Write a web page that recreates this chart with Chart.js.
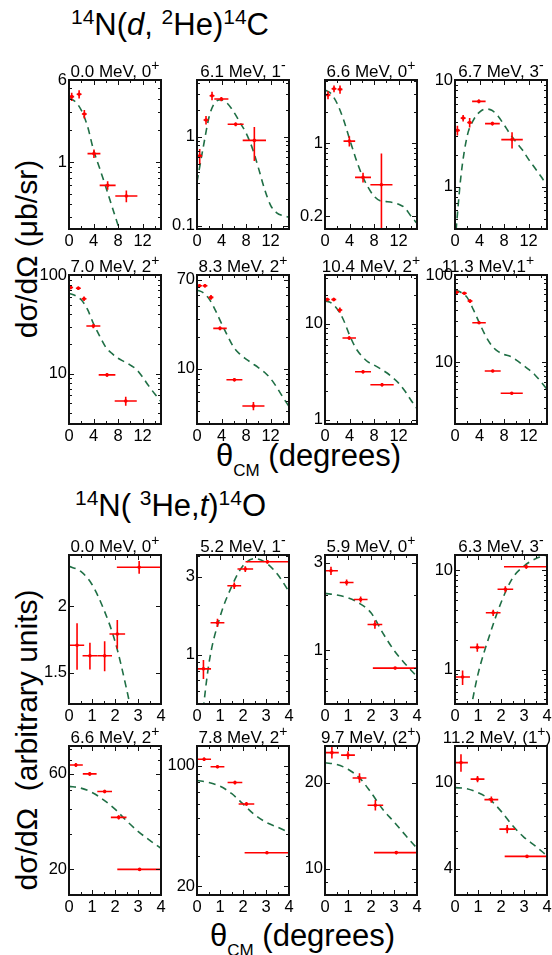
<!DOCTYPE html>
<html>
<head>
<meta charset="utf-8">
<script src="https://cdn.jsdelivr.net/npm/chart.js@4.4.0/dist/chart.umd.min.js"></script>
<style>
  body { margin:0; width:552px; height:955px; background:#fff; position:relative; overflow:hidden;
         font-family:"Liberation Sans", Arial, sans-serif; color:#000; }
  canvas { position:absolute; }
  .lbl { position:absolute; white-space:nowrap; }
  .sp { font-size:21px; position:relative; top:-11px; }
  .sb { font-size:17px; position:relative; top:10px; }
  .rot { position:absolute; width:340px; text-align:center; font-size:30px; line-height:30px;
         white-space:nowrap; transform:rotate(-90deg); transform-origin:50% 50%; }
</style>
</head>
<body>

<div class="lbl" style="left:71px;top:10px;font-size:31px;line-height:30px"><span class="sp">14</span>N(<i>d</i>, <span class="sp">2</span>He)<span class="sp">14</span>C</div>
<div class="lbl" style="left:75px;top:491px;font-size:31px;line-height:30px"><span class="sp">14</span>N( <span class="sp">3</span>He,<i>t</i>)<span class="sp">14</span>O</div>

<div class="lbl" style="left:216px;top:441px;font-size:31px;line-height:30px">θ<span class="sb">CM</span> (degrees)</div>
<div class="lbl" style="left:210px;top:921px;font-size:31px;line-height:30px">θ<span class="sb">CM</span> (degrees)</div>

<div class="rot" style="left:-143px;top:234px">dσ/dΩ (μb/sr)</div>
<div class="rot" style="left:-143px;top:725px">dσ/dΩ&nbsp; (arbitrary units)</div>

<script>
// angle grids for the dashed DWBA curves
const topFitTheta = [0, 1, 2, 3, 4, 5, 6, 7, 8, 9, 10, 11, 12, 13, 14, 15];
const botFitTheta = [0, 0.5, 1, 1.5, 2, 2.5, 3, 3.5, 4];

// 14N(d,2He)14C
const top1Theta = [0.44, 1.65, 2.5, 4.07, 6.3, 9.35];
const top1ThetaErr = [0.4, 0.4, 0.4, 1.05, 1.3, 1.8];
const top1Xs = [4.17, 4.4, 2.85, 1.2, 0.60, 0.475];
const top1XsErr = [0.38, 0.4, 0.27, 0.11, 0.055, 0.06];
const top1Fit = [4.0, 3.75, 3.1, 2.2, 1.3, 0.87, 0.58, 0.38, 0.25, 0.16, 0.1];

const top2Theta = [0.44, 1.47, 2.45, 3.97, 6.3, 9.35];
const top2ThetaErr = [0.4, 0.4, 0.4, 1.15, 1.3, 1.9];
const top2Xs = [0.61, 1.54, 2.89, 2.65, 1.38, 0.91];
const top2XsErr = [0.12, 0.17, 0.32, 0.14, 0.07, 0.375];
const top2Fit = [0.31, 0.75, 1.7, 2.45, 2.6, 2.35, 1.9, 1.45, 1.1, 0.75, 0.45, 0.26, 0.17, 0.14, 0.13, 0.125];

const top3Theta = [0.49, 1.47, 2.45, 3.97, 6.2, 9.2];
const top3ThetaErr = [0.4, 0.4, 0.4, 0.95, 1.3, 1.8];
const top3Xs = [2.91, 3.35, 3.3, 1.05, 0.47, 0.40];
const top3XsErr = [0.26, 0.25, 0.3, 0.12, 0.05, 0.40];
const top3Fit = [3.25, 3.0, 2.4, 1.7, 1.1, 0.72, 0.5, 0.38, 0.31, 0.28, 0.275, 0.27, 0.26, 0.24, 0.2, 0.17];

const top4Theta = [0.39, 1.33, 2.39, 3.89, 6.1, 9.3];
const top4ThetaErr = [0.4, 0.4, 0.4, 1.1, 1.2, 1.75];
const top4Xs = [3.37, 4.39, 3.99, 6.3, 3.9, 2.76];
const top4XsErr = [0.35, 0.3, 0.4, 0.25, 0.15, 0.48];
const top4Fit = [0.3, 1.3, 3.0, 4.2, 5.0, 5.35, 5.2, 4.6, 3.8, 3.1, 2.6, 2.2, 1.8, 1.5, 1.25, 1.02];

const top5Theta = [0.27, 1.52, 2.45, 3.97, 6.2, 9.25];
const top5ThetaErr = [0.4, 0.4, 0.4, 1.14, 1.36, 1.8];
const top5Xs = [74.8, 73.5, 57.5, 30.4, 9.7, 5.27];
const top5XsErr = [3, 3, 3, 1.5, 0.4, 0.55];
const top5Fit = [65, 62, 56, 45, 32, 24, 18.5, 16, 14.3, 13.2, 12.2, 11, 9.2, 7.5, 6.2, 5.2];

const top6Theta = [0.4, 1.3, 2.28, 3.75, 6.1, 9.2];
const top6ThetaErr = [0.4, 0.4, 0.4, 1.1, 1.3, 1.8];
const top6Xs = [61.7, 61.7, 47.8, 24.3, 7.9, 4.45];
const top6XsErr = [2.5, 2.5, 2.5, 1, 0.3, 0.4];
const top6Fit = [56, 53, 46, 36, 27, 20.5, 16, 13.8, 12.4, 11.3, 10.3, 9.3, 8.1, 6.7, 5.4, 4.4];

const top7Theta = [0.38, 1.43, 2.42, 3.95, 6.2, 9.3];
const top7ThetaErr = [0.4, 0.4, 0.4, 1.1, 1.3, 1.9];
const top7Xs = [17.9, 17.9, 13.9, 7.1, 3.15, 2.31];
const top7XsErr = [0.8, 0.8, 0.9, 0.3, 0.12, 0.1];
const top7Fit = [17.3, 16.5, 14.2, 11, 7.6, 5.6, 4.6, 4.0, 3.7, 3.4, 3.1, 2.75, 2.4, 2.0, 1.6, 1.3];

const top8Theta = [0.27, 1.52, 2.45, 3.92, 6.15, 9.25];
const top8ThetaErr = [0.4, 0.4, 0.4, 1.1, 1.3, 1.8];
const top8Xs = [63.4, 61.7, 50.3, 28.4, 7.95, 4.42];
const top8XsErr = [2, 2, 2.5, 1, 0.25, 0.15];
const top8Fit = [67, 63, 55, 40, 28, 20, 15.5, 13.3, 12.3, 11.7, 10.6, 9.4, 8.3, 7.2, 6.0, 4.9];

// 14N(3He,t)14O
const bot1Theta = [0.35, 0.91, 1.55, 2.1, 3.05];
const bot1ThetaErr = [0.31, 0.32, 0.32, 0.34, 0.97];
const bot1Xs = [1.69, 1.615, 1.615, 1.775, 2.37];
const bot1XsErr = [0.17, 0.094, 0.105, 0.11, 0.065];
const bot1Fit = [2.38, 2.33, 2.2, 1.98, 1.72, 1.4, 1.1];

const bot2Theta = [0.28, 0.89, 1.62, 2.1, 3.06];
const bot2ThetaErr = [0.33, 0.3, 0.3, 0.34, 0.95];
const bot2Xs = [0.82, 1.57, 2.64, 3.34, 3.70];
const bot2XsErr = [0.11, 0.09, 0.12, 0.14, 0.1];
const bot2Fit = [0.2, 0.85, 1.7, 2.6, 3.5, 3.87, 3.65, 3.1, 2.43];

const bot3Theta = [0.26, 0.94, 1.55, 2.17, 3.05];
const bot3ThetaErr = [0.3, 0.3, 0.3, 0.32, 0.97];
const bot3Xs = [2.71, 2.34, 1.89, 1.38, 0.80];
const bot3XsErr = [0.14, 0.09, 0.07, 0.07, 0.01];
const bot3Fit = [2.04, 2.0, 1.93, 1.8, 1.6, 1.25, 1.0, 0.84, 0.72];

const bot4Theta = [0.33, 0.97, 1.66, 2.19, 3.1];
const bot4ThetaErr = [0.32, 0.32, 0.32, 0.34, 0.97];
const bot4Xs = [0.84, 1.67, 3.72, 6.43, 10.8];
const bot4XsErr = [0.14, 0.16, 0.27, 0.47, 0.5];
const bot4Fit = [0.1, 0.25, 0.9, 2.2, 4.7, 8.3, 11.0, 13.0, 14.2];

const bot5Theta = [0.30, 0.9, 1.55, 2.16, 3.07];
const bot5ThetaErr = [0.3, 0.3, 0.32, 0.34, 0.97];
const bot5Xs = [66.5, 60, 49, 36.4, 20];
const bot5XsErr = [1.5, 1.2, 1, 0.9, 0.3];
const bot5Fit = [52, 51, 48.5, 44.5, 40, 35, 31, 28, 25.5];

const bot6Theta = [0.31, 0.89, 1.65, 2.15, 3.04];
const bot6ThetaErr = [0.3, 0.3, 0.32, 0.34, 0.97];
const bot6Xs = [109, 98.6, 79.8, 60, 31.3];
const bot6XsErr = [2.5, 2, 2, 1.5, 0.5];
const bot6Fit = [82, 80, 76, 69, 60, 52, 47, 44, 41];

const bot7Theta = [0.3, 1.0, 1.5, 2.19, 3.1];
const bot7ThetaErr = [0.3, 0.3, 0.3, 0.34, 0.97];
const bot7Xs = [25.5, 25.0, 20.8, 16.7, 11.4];
const bot7XsErr = [1.2, 0.8, 0.8, 0.7, 0.15];
const bot7Fit = [23.5, 23.2, 22.3, 20.8, 18.5, 16.2, 14.6, 13.1, 11.8];

const bot8Theta = [0.26, 0.98, 1.58, 2.27, 3.13];
const bot8ThetaErr = [0.3, 0.3, 0.3, 0.34, 0.97];
const bot8Xs = [12.4, 10.4, 8.36, 6.11, 4.57];
const bot8XsErr = [1.15, 0.35, 0.28, 0.27, 0.05];
const bot8Fit = [9.5, 9.4, 9.0, 8.4, 7.4, 6.35, 5.6, 5.1, 4.6];

// x ticks of each group
const topXMajor = [0, 4, 8, 12], topXMinor = [2, 6, 10, 14];
const botXMajor = [0, 1, 2, 3, 4], botXMinor = [0.5, 1.5, 2.5, 3.5];

const FONT = '"Liberation Sans", Arial, sans-serif';
const RED = '#ff0000', GREEN = '#1f6f45', INK = '#111';
const colLeft = [69, 197, 325, 455];
const rowTop = [80, 275, 555, 746];
const plotW = 92, plotH = 149;
const PAD_L = 52, PAD_T = 30, PAD_R = 10, PAD_B = 26;

const panels = [
  {col:0,row:0, x:top1Theta, dx:top1ThetaErr, y:top1Xs, dy:top1XsErr, fit:top1Fit, yMin:0.231, yMax:6,   yLab:[1,6],     title:['0.0 MeV, 0','+','']},
  {col:1,row:0, x:top2Theta, dx:top2ThetaErr, y:top2Xs, dy:top2XsErr, fit:top2Fit, yMin:0.092, yMax:4.34, yLab:[0.1,1],  title:['6.1 MeV, 1','-','']},
  {col:2,row:0, x:top3Theta, dx:top3ThetaErr, y:top3Xs, dy:top3XsErr, fit:top3Fit, yMin:0.15, yMax:4.06,  yLab:[0.2,1],   title:['6.6 MeV, 0','+','']},
  {col:3,row:0, x:top4Theta, dx:top4ThetaErr, y:top4Xs, dy:top4XsErr, fit:top4Fit, yMin:0.4, yMax:10,     yLab:[1,10],    title:['6.7 MeV, 3','-','']},
  {col:0,row:1, x:top5Theta, dx:top5ThetaErr, y:top5Xs, dy:top5XsErr, fit:top5Fit, yMin:3.08, yMax:100,   yLab:[10,100],  title:['7.0 MeV, 2','+','']},
  {col:1,row:1, x:top6Theta, dx:top6ThetaErr, y:top6Xs, dy:top6XsErr, fit:top6Fit, yMin:3.0, yMax:78,     yLab:[10,70],   title:['8.3 MeV, 2','+','']},
  {col:2,row:1, x:top7Theta, dx:top7ThetaErr, y:top7Xs, dy:top7XsErr, fit:top7Fit, yMin:0.9, yMax:32.2,   yLab:[1,10],    title:['10.4 MeV, 2','+','']},
  {col:3,row:1, x:top8Theta, dx:top8ThetaErr, y:top8Xs, dy:top8XsErr, fit:top8Fit, yMin:1.96, yMax:100,   yLab:[10,100],  title:['11.3 MeV,1','+',''], shift:-13},
  {col:0,row:2, x:bot1Theta, dx:bot1ThetaErr, y:bot1Xs, dy:bot1XsErr, fit:bot1Fit, yMin:1.31, yMax:2.5,   yLab:[1.5,2],   title:['0.0 MeV, 0','+','']},
  {col:1,row:2, x:bot2Theta, dx:bot2ThetaErr, y:bot2Xs, dy:bot2XsErr, fit:bot2Fit, yMin:0.5, yMax:4.07,   yLab:[1,3],     title:['5.2 MeV, 1','-','']},
  {col:2,row:2, x:bot3Theta, dx:bot3ThetaErr, y:bot3Xs, dy:bot3XsErr, fit:bot3Fit, yMin:0.51, yMax:3.3,   yLab:[1,3],     title:['5.9 MeV, 0','+','']},
  {col:3,row:2, x:bot4Theta, dx:bot4ThetaErr, y:bot4Xs, dy:bot4XsErr, fit:bot4Fit, yMin:0.45, yMax:14.2,  yLab:[1,10],    title:['6.3 MeV, 3','-','']},
  {col:0,row:3, x:bot5Theta, dx:bot5ThetaErr, y:bot5Xs, dy:bot5XsErr, fit:bot5Fit, yMin:14.9, yMax:82.7,  yLab:[20,60],   title:['6.6 MeV, 2','+','']},
  {col:1,row:3, x:bot6Theta, dx:bot6ThetaErr, y:bot6Xs, dy:bot6XsErr, fit:bot6Fit, yMin:17.8, yMax:130,   yLab:[20,100],  title:['7.8 MeV, 2','+','']},
  {col:2,row:3, x:bot7Theta, dx:bot7ThetaErr, y:bot7Xs, dy:bot7XsErr, fit:bot7Fit, yMin:8.1, yMax:26.9,   yLab:[10,20],   title:['9.7 MeV, (2','+',')']},
  {col:3,row:3, x:bot8Theta, dx:bot8ThetaErr, y:bot8Xs, dy:bot8XsErr, fit:bot8Fit, yMin:3.03, yMax:14.8,  yLab:[4,10],    title:['11.2 MeV, (1','+',')'], shift:-4},
];

function logTicks(min, max, extra) {
  const out = extra.slice();
  for (let e = Math.floor(Math.log10(min)); e <= Math.ceil(Math.log10(max)); e++) {
    for (let m = 1; m < 10; m++) {
      const v = parseFloat((m * Math.pow(10, e)).toPrecision(6));
      if (v >= min && v <= max && !out.includes(v)) out.push(v);
    }
  }
  return out.sort((a, b) => a - b);
}

function sameVal(a, b) { return Math.abs(a - b) <= 1e-6 * Math.max(1, Math.abs(b)); }

// error bars for the measured points
const errorBars = {
  id: 'errorBars',
  afterDatasetsDraw(chart) {
    const {ctx, chartArea: a, scales: {x, y}} = chart;
    ctx.save();
    ctx.beginPath();
    ctx.rect(a.left, a.top, a.width, a.height);
    ctx.clip();
    ctx.strokeStyle = RED;
    ctx.lineWidth = 1.6;
    chart.data.datasets.forEach(ds => {
      if (!ds.errX) return;
      ds.data.forEach((p, i) => {
        const px = x.getPixelForValue(p.x), py = y.getPixelForValue(p.y);
        const x0 = x.getPixelForValue(p.x - ds.errX[i]), x1 = x.getPixelForValue(p.x + ds.errX[i]);
        const lo = Math.max(p.y - ds.errY[i], y.min * 0.5);
        const y0 = y.getPixelForValue(lo), y1 = y.getPixelForValue(p.y + ds.errY[i]);
        ctx.beginPath();
        ctx.moveTo(x0, py); ctx.lineTo(x1, py);
        ctx.moveTo(px, y0); ctx.lineTo(px, y1);
        ctx.stroke();
      });
    });
    ctx.restore();
  }
};

// box frame with inward ticks on all four sides
const frameTicks = {
  id: 'frameTicks',
  afterDraw(chart) {
    const {ctx, chartArea: a, scales: {x, y}} = chart;
    ctx.save();
    ctx.strokeStyle = INK;
    ctx.lineWidth = 1;
    ctx.beginPath();
    x.ticks.forEach(t => {
      const px = Math.round(x.getPixelForValue(t.value)) + 0.5;
      const len = t.label !== '' ? 5 : 3;
      ctx.moveTo(px, a.bottom); ctx.lineTo(px, a.bottom - len);
      ctx.moveTo(px, a.top); ctx.lineTo(px, a.top + len);
    });
    y.ticks.forEach(t => {
      const py = Math.round(y.getPixelForValue(t.value)) + 0.5;
      const len = t.label !== '' ? 5 : 3;
      ctx.moveTo(a.left, py); ctx.lineTo(a.left + len, py);
      ctx.moveTo(a.right, py); ctx.lineTo(a.right - len, py);
    });
    ctx.stroke();
    ctx.lineWidth = 2;
    ctx.strokeRect(a.left, a.top, a.width, a.height);
    ctx.restore();
  }
};

// panel heading with superscript spin/parity
const panelTitle = {
  id: 'panelTitle',
  afterDraw(chart, args, o) {
    const {ctx, chartArea: a} = chart;
    const [t1, sup, t2] = o.parts;
    ctx.save();
    ctx.fillStyle = '#000';
    ctx.textBaseline = 'alphabetic';
    ctx.textAlign = 'left';
    ctx.font = `17px ${FONT}`;
    const w1 = ctx.measureText(t1).width, w3 = ctx.measureText(t2).width;
    ctx.font = `14px ${FONT}`;
    const w2 = ctx.measureText(sup).width;
    const sx = (a.left + a.right) / 2 - (w1 + w2 + w3) / 2 + (o.shift || 0);
    const base = a.top - 3;
    ctx.font = `17px ${FONT}`;
    ctx.fillText(t1, sx, base);
    ctx.font = `14px ${FONT}`;
    ctx.fillText(sup, sx + w1, base - 7);
    ctx.font = `17px ${FONT}`;
    ctx.fillText(t2, sx + w1 + w2, base);
    ctx.restore();
  }
};

panels.forEach(p => {
  const isTop = p.row < 2;
  const fitTheta = isTop ? topFitTheta : botFitTheta;
  const xMajor = isTop ? topXMajor : botXMajor;
  const xMinor = isTop ? topXMinor : botXMinor;
  const xMax = isTop ? 15 : 4;

  const cv = document.createElement('canvas');
  cv.width = PAD_L + plotW + PAD_R;
  cv.height = PAD_T + plotH + PAD_B;
  cv.style.left = (colLeft[p.col] - PAD_L) + 'px';
  cv.style.top = (rowTop[p.row] - PAD_T) + 'px';
  document.body.appendChild(cv);

  const yTicks = logTicks(p.yMin, p.yMax, p.yLab);
  const xTicks = xMajor.concat(xMinor).sort((a, b) => a - b);

  new Chart(cv, {
    type: 'scatter',
    data: {
      datasets: [
        {
          data: p.x.map((v, i) => ({x: v, y: p.y[i]})),
          errX: p.dx, errY: p.dy,
          pointRadius: 1.8, pointBackgroundColor: RED, pointBorderColor: RED, pointBorderWidth: 0,
          showLine: false
        },
        {
          data: p.fit.map((v, i) => ({x: fitTheta[i], y: v})),
          showLine: true, borderColor: GREEN, borderWidth: 1.6, borderDash: [7, 5],
          pointRadius: 0, cubicInterpolationMode: 'monotone', fill: false
        }
      ]
    },
    options: {
      responsive: false,
      animation: false,
      devicePixelRatio: 1,
      events: [],
      layout: {padding: {left: 0, top: PAD_T, right: PAD_R, bottom: 0}},
      plugins: {
        legend: {display: false},
        tooltip: {enabled: false},
        panelTitle: {parts: p.title, shift: p.shift}
      },
      scales: {
        x: {
          type: 'linear', min: 0, max: xMax, bounds: 'data',
          afterFit: s => { s.height = PAD_B; },
          afterBuildTicks: s => { s.ticks = xTicks.map(v => ({value: v})); },
          grid: {display: false, drawTicks: false},
          border: {display: false},
          ticks: {
            autoSkip: false, maxRotation: 0, minRotation: 0, padding: 3, color: '#000',
            font: {family: FONT, size: 16.5},
            callback: v => xMajor.some(m => sameVal(v, m)) ? String(v) : ''
          }
        },
        y: {
          type: 'logarithmic', min: p.yMin, max: p.yMax, bounds: 'data',
          afterFit: s => { s.width = PAD_L; },
          afterBuildTicks: s => { s.ticks = yTicks.map(v => ({value: v})); },
          grid: {display: false, drawTicks: false},
          border: {display: false},
          ticks: {
            autoSkip: false, padding: 2, color: '#000',
            font: {family: FONT, size: 16.5},
            callback: v => {
              const m = p.yLab.find(l => sameVal(v, l));
              return m === undefined ? '' : String(m);
            }
          }
        }
      }
    },
    plugins: [errorBars, frameTicks, panelTitle]
  });
});
</script>
</body>
</html>
